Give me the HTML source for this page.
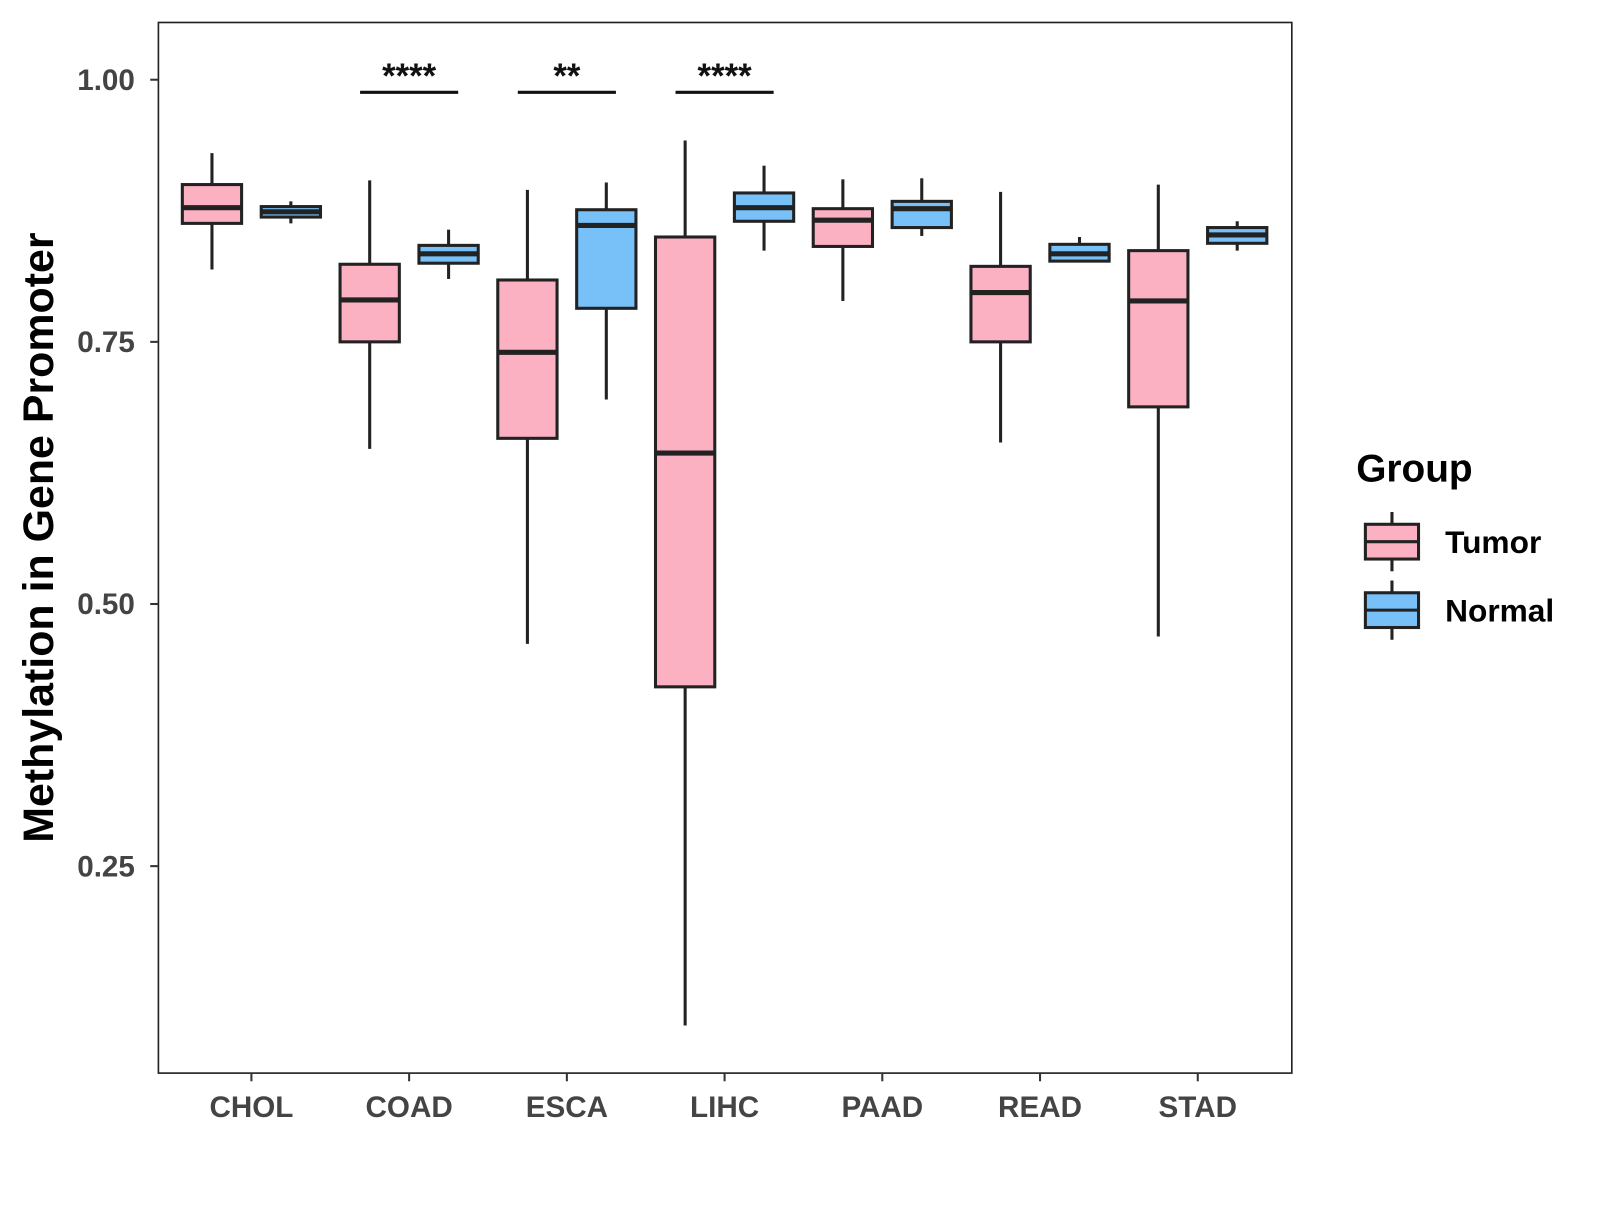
<!DOCTYPE html>
<html><head><meta charset="utf-8"><style>
body{margin:0;background:#fff}
svg text{font-family:"Liberation Sans",Arial,sans-serif;font-weight:bold}
</style></head><body>
<svg id="chart" width="1600" height="1200" xmlns="http://www.w3.org/2000/svg">
<rect x="0" y="0" width="1600" height="1200" fill="#fff"/>
<g id="plot" transform="scale(1.022)"></g>
</svg>
<script>
const categories=["CHOL","COAD","ESCA","LIHC","PAAD","READ","STAD"];
const tumorStats=[[0.819,0.863,0.878,0.900,0.930],[0.648,0.750,0.790,0.824,0.904],[0.462,0.658,0.740,0.809,0.895],[0.098,0.421,0.644,0.850,0.942],[0.789,0.841,0.866,0.877,0.905],[0.654,0.750,0.797,0.822,0.893],[0.469,0.688,0.789,0.837,0.900]];
const normalStats=[[0.863,0.869,0.874,0.879,0.884],[0.810,0.825,0.834,0.842,0.857],[0.695,0.782,0.861,0.876,0.902],[0.837,0.865,0.878,0.892,0.918],[0.851,0.859,0.877,0.884,0.906],[0.826,0.827,0.834,0.843,0.850],[0.837,0.844,0.852,0.859,0.865]];
const yTicks=[0.25,0.50,0.75,1.00];
const yTickLabels=["0.25","0.50","0.75","1.00"];
const signifCats=[1,2,3];
const signifLabels=["****","**","****"];
const signifY=[0.988,0.988,0.988];

const NS="http://www.w3.org/2000/svg";
const g=document.getElementById('plot');
const yS=v=>78+(1-v)*1026;
const xS=i=>246+i*154.33;
function mk(t,a,p){const e=document.createElementNS(NS,t);for(const k in a)e.setAttribute(k,a[k]);(p||g).appendChild(e);return e;}

const panel=mk('rect',{x:155,y:22,width:1109,height:1028,fill:'none',stroke:'#222','stroke-width':1.6});



yTicks.forEach((v,i)=>{
  const t=mk('line',{x1:147,x2:155,y1:yS(v),y2:yS(v),stroke:'#333','stroke-width':2});
  
  
  const l=mk('text',{x:132,y:yS(v)+10,'text-anchor':'end','font-size':29,fill:'#444'});
  l.textContent=yTickLabels[i];
  
  
});
categories.forEach((c,i)=>{
  const t=mk('line',{x1:xS(i),x2:xS(i),y1:1050,y2:1058,stroke:'#333','stroke-width':2});
  
  
  const l=mk('text',{x:xS(i),y:1093,'text-anchor':'middle','font-size':29,fill:'#444'});
  l.textContent=c;
  
  
});

function box(cx,s,fill,name){
  const w=58;
  const gg=mk('g',{});
  
  
  mk('line',{x1:cx,x2:cx,y1:yS(s[4]),y2:yS(s[3]),stroke:'#222','stroke-width':3},gg);
  mk('line',{x1:cx,x2:cx,y1:yS(s[1]),y2:yS(s[0]),stroke:'#222','stroke-width':3},gg);
  mk('rect',{x:cx-w/2,y:yS(s[3]),width:w,height:Math.max(yS(s[1])-yS(s[3]),1),fill:fill,stroke:'#222','stroke-width':3},gg);
  mk('line',{x1:cx-w/2,x2:cx+w/2,y1:yS(s[2]),y2:yS(s[2]),stroke:'#222','stroke-width':5},gg);
}
categories.forEach((c,i)=>{
  box(xS(i)-38.6,tumorStats[i],'#FCB1C3','box-tumor-'+c.toLowerCase());
  box(xS(i)+38.6,normalStats[i],'#78C1F8','box-normal-'+c.toLowerCase());
});
signifCats.forEach((ci,k)=>{
  const y=yS(signifY[k]);
  const l=mk('line',{x1:xS(ci)-48,x2:xS(ci)+48,y1:y,y2:y,stroke:'#111','stroke-width':3});
  
  
  const t=mk('text',{x:xS(ci),y:y-4,'text-anchor':'middle','font-size':34,fill:'#111'});
  t.textContent=signifLabels[k];
  
  
});
const yt=mk('text',{x:0,y:0,transform:'translate(52,526) rotate(-90)','text-anchor':'middle','font-size':42,fill:'#000'});
yt.textContent='Methylation in Gene Promoter';



const lt=mk('text',{x:1327,y:471,'font-size':38,fill:'#000'});
lt.textContent='Group';


[['Tumor','#FCB1C3',530],['Normal','#78C1F8',597]].forEach(([n,f,cy])=>{
  const gg=mk('g',{});
  
  
  mk('line',{x1:1362,x2:1362,y1:cy-29,y2:cy+29,stroke:'#222','stroke-width':3},gg);
  mk('rect',{x:1336,y:cy-17,width:52,height:34,fill:f,stroke:'#222','stroke-width':3},gg);
  mk('line',{x1:1336,x2:1388,y1:cy,y2:cy,stroke:'#222','stroke-width':3},gg);
  const t=mk('text',{x:1414,y:cy+11,'font-size':31,fill:'#000'},gg);
  t.textContent=n;
});
</script>
</body></html>
